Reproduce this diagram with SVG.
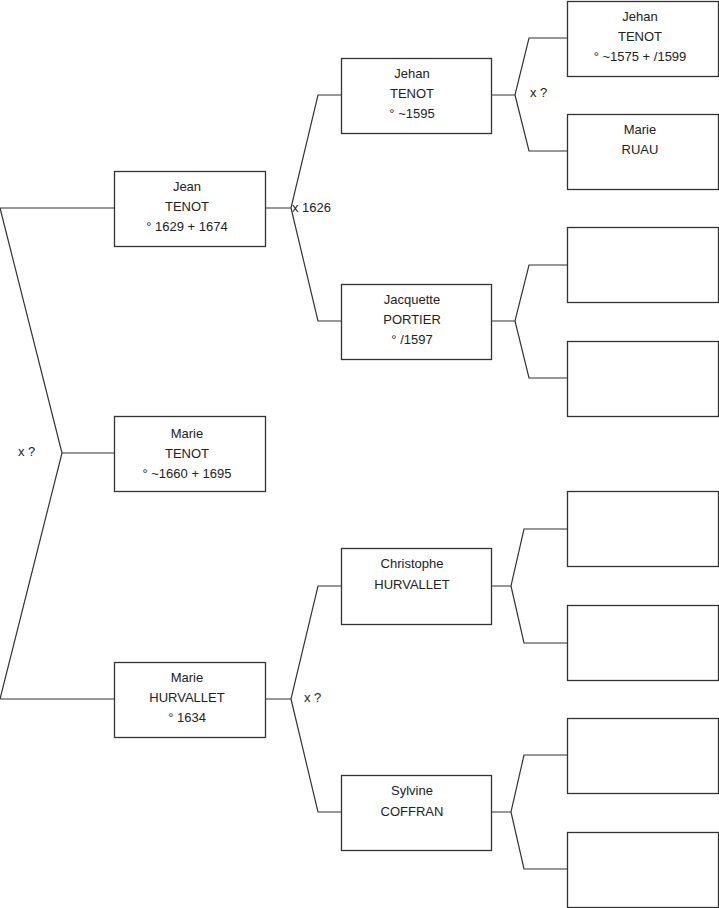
<svg xmlns="http://www.w3.org/2000/svg" width="719" height="908" viewBox="0 0 719 908">
<style>
.b{fill:#fff;stroke:#333;stroke-width:1.3}
.c{fill:none;stroke:#333;stroke-width:1.2}
text{font-family:"Liberation Sans",Arial,sans-serif;font-size:13px;fill:#222}
.m{text-anchor:middle}
</style>
<rect width="719" height="908" fill="#fff"/>
<g id="connectors" class="c">
<path d="M114,208H0L62,453L0,699H114M62,453H114"/>
<path d="M265,208H291L318,95H341M291,208L318,321H341"/>
<path d="M491,95H515L529,38H567M515,95L529,151H567"/>
<path d="M491,321H515L529,265H567M515,321L529,378H567"/>
<path d="M265,699H291L318,586H341M291,699L318,812H341"/>
<path d="M491,586H511L524,529H567M511,586L524,643H567"/>
<path d="M491,812H511L524,755H567M511,812L524,869H567"/>
</g>
<g id="labels">
<text x="18" y="456">x ?</text>
<text x="292" y="212">x 1626</text>
<text x="530" y="97">x ?</text>
<text x="304" y="702">x ?</text>
</g>
<g id="jean-tenot"><rect class="b" x="114.5" y="171.5" width="151" height="75"/><text class="m" x="187" y="191">Jean</text><text class="m" x="187" y="211">TENOT</text><text class="m" x="187" y="231">° 1629 + 1674</text></g>
<g id="marie-tenot"><rect class="b" x="114.5" y="416.5" width="151" height="75"/><text class="m" x="187" y="438">Marie</text><text class="m" x="187" y="458">TENOT</text><text class="m" x="187" y="478">° ~1660 + 1695</text></g>
<g id="marie-hurvallet"><rect class="b" x="114.5" y="662.5" width="151" height="75"/><text class="m" x="187" y="682">Marie</text><text class="m" x="187" y="702">HURVALLET</text><text class="m" x="187" y="722">° 1634</text></g>
<g id="jehan-tenot-1595"><rect class="b" x="341.5" y="58.5" width="150" height="75"/><text class="m" x="412" y="78">Jehan</text><text class="m" x="412" y="98">TENOT</text><text class="m" x="412" y="118">° ~1595</text></g>
<g id="jacquette-portier"><rect class="b" x="341.5" y="284.5" width="150" height="75"/><text class="m" x="412" y="304">Jacquette</text><text class="m" x="412" y="324">PORTIER</text><text class="m" x="412" y="344">° /1597</text></g>
<g id="christophe-hurvallet"><rect class="b" x="341.5" y="548.5" width="150" height="76"/><text class="m" x="412" y="568">Christophe</text><text class="m" x="412" y="589">HURVALLET</text></g>
<g id="sylvine-coffran"><rect class="b" x="341.5" y="775.5" width="150" height="75"/><text class="m" x="412" y="795">Sylvine</text><text class="m" x="412" y="816">COFFRAN</text></g>
<g id="jehan-tenot-1575"><rect class="b" x="567.5" y="1.5" width="151" height="75"/><text class="m" x="640" y="21">Jehan</text><text class="m" x="640" y="41">TENOT</text><text class="m" x="640" y="61">° ~1575 + /1599</text></g>
<g id="marie-ruau"><rect class="b" x="567.5" y="114.5" width="151" height="75"/><text class="m" x="640" y="134">Marie</text><text class="m" x="640" y="154">RUAU</text></g>
<g id="p3"><rect class="b" x="567.5" y="227.5" width="151" height="75"/></g>
<g id="p4"><rect class="b" x="567.5" y="341.5" width="151" height="75"/></g>
<g id="p5"><rect class="b" x="567.5" y="491.5" width="151" height="75"/></g>
<g id="p6"><rect class="b" x="567.5" y="605.5" width="151" height="75"/></g>
<g id="p7"><rect class="b" x="567.5" y="718.5" width="151" height="75"/></g>
<g id="p8"><rect class="b" x="567.5" y="832.5" width="151" height="75"/></g>
</svg>
